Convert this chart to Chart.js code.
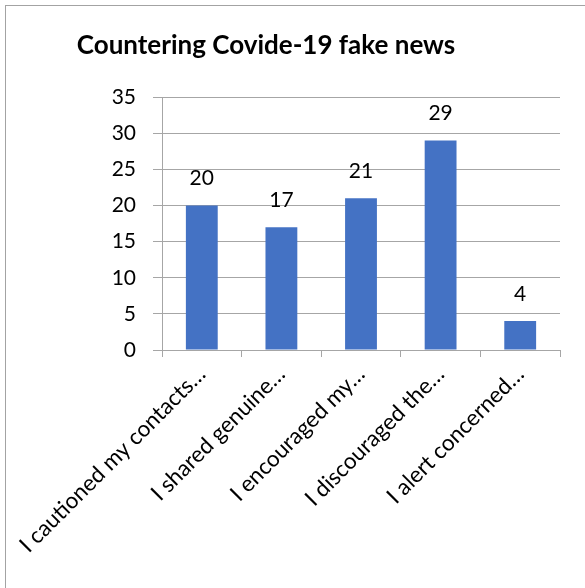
<!DOCTYPE html>
<html>
<head>
<meta charset="utf-8">
<script src="https://cdn.jsdelivr.net/npm/chart.js@4"></script>
<style>
  html, body { margin: 0; padding: 0; background: #fff; overflow: hidden; }
  #frame {
    position: absolute; left: 5px; top: 5px; width: 700px; height: 700px;
    border: 1.5px solid #a3a3a3; box-sizing: border-box;
  }
  #wrap { position: absolute; left: 0; top: 0; width: 585px; height: 588px; }
</style>
</head>
<body>
<div id="frame"></div>
<div id="wrap"><canvas id="c" width="585" height="588"></canvas></div>
<script>
const categories = [
  'I cautioned my contacts\u2026',
  'I shared genuine\u2026',
  'I encouraged my\u2026',
  'I discouraged the\u2026',
  'I alert concerned\u2026'
];
const responses = [20, 17, 21, 29, 4];
const titleText = 'Countering Covide-19 fake news';

const FONT = 'Lato, "Open Sans", sans-serif';
const GRID = '#a6a6a6';

// value labels above each bar, positioned from the bar elements
const barValues = {
  id: 'barValues',
  afterDatasetsDraw(chart) {
    const ctx = chart.ctx;
    const meta = chart.getDatasetMeta(0);
    ctx.save();
    ctx.font = '21px ' + FONT;
    ctx.fillStyle = '#000';
    ctx.textAlign = 'center';
    ctx.textBaseline = 'middle';
    meta.data.forEach((bar, i) => {
      ctx.fillText(String(chart.data.datasets[0].data[i]), bar.x, bar.y - 27);
    });
    ctx.restore();
  }
};

// keep the title centred over the left part of the frame
const titleSpan = {
  id: 'titleSpan',
  afterLayout(chart) {
    const t = chart.titleBlock;
    if (t) { t.left = 0; t.right = 532; t.width = 532; }
  }
};

new Chart(document.getElementById('c'), {
  type: 'bar',
  data: {
    labels: categories,
    datasets: [{
      data: responses,
      backgroundColor: '#4472C4',
      borderWidth: 0,
      barPercentage: 0.4,
      categoryPercentage: 1.0
    }]
  },
  options: {
    responsive: false,
    animation: false,
    layout: { padding: { left: 60, right: 25, top: 0, bottom: 0 } },
    plugins: {
      legend: { display: false },
      tooltip: { enabled: false },
      title: {
        display: true,
        text: titleText,
        color: '#000',
        font: { family: FONT, size: 26, weight: 'bold' },
        padding: { top: 30, bottom: 36 }
      }
    },
    scales: {
      x: {
        grid: {
          offset: true,
          drawOnChartArea: false,
          tickLength: 7,
          color: GRID
        },
        border: { color: GRID, width: 1 },
        ticks: {
          minRotation: 45,
          maxRotation: 45,
          autoSkip: false,
          padding: 4,
          color: '#000',
          font: { family: FONT, size: 22.5 }
        },
        afterFit(scale) {
          scale.height = 238;
          scale.paddingLeft = 0;
          scale.paddingRight = 0;
        }
      },
      y: {
        min: 0,
        max: 35,
        ticks: {
          stepSize: 5,
          padding: 17,
          color: '#000',
          font: { family: FONT, size: 21 }
        },
        grid: { color: GRID, tickLength: 9, lineWidth: 1 },
        border: { color: GRID, width: 1 },
        afterFit(scale) {
          scale.width = 102;
          scale.paddingTop = 0;
          scale.paddingBottom = 0;
        }
      }
    }
  },
  plugins: [barValues, titleSpan]
});
</script>
</body>
</html>
